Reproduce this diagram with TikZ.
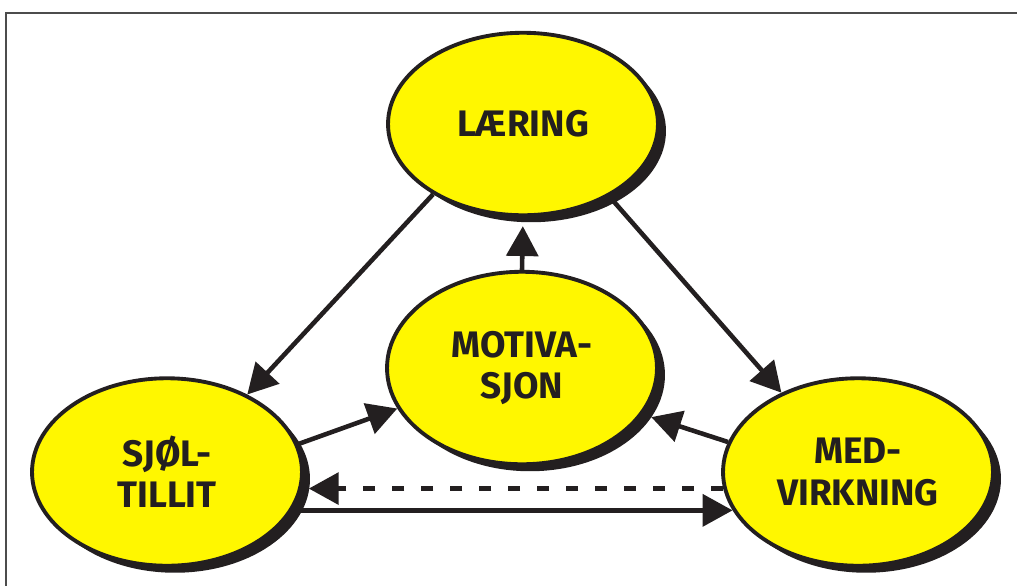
\documentclass[tikz,border=0pt]{standalone}
\usepackage{fontspec}
\setmainfont{Fira Sans}
\usetikzlibrary{shapes.geometric,arrows.meta,shadows}
\definecolor{gul}{RGB}{255,247,0}
\definecolor{sort}{RGB}{35,31,32}
\begin{document}
\begin{tikzpicture}[x=0.02cm,y=-0.02cm,
  boble/.style={ellipse,draw=sort,line width=2.2pt,fill=gul,minimum width=5.4cm,inner sep=0pt,
    drop shadow={shadow xshift=0.16cm,shadow yshift=-0.14cm,fill=sort,opacity=1},
    font=\bfseries\fontsize{21}{23.5}\selectfont,text=sort,align=center},
  pil/.style={draw=sort,line width=2.6pt,-{Triangle[length=17pt,width=18pt]}}]
\useasboundingbox (0,0) rectangle (1017,586);
\draw[line width=1.2pt,black!70] (1017,13)--(6,13)--(6,586);
\node[boble,minimum height=3.65cm](lae) at (523,124){LÆRING};
\node[boble,minimum height=3.85cm](mot) at (522,368){MOTIVA-\\SJON};
\node[boble,minimum height=3.75cm](sjo) at (167,472){SJØL-\\TILLIT};
\node[boble,minimum height=3.75cm](med) at (858,472){MED-\\VIRKNING};
\draw[pil](lae.218)--(sjo.44);
\draw[pil](lae.320)--(med.134);
\draw[pil,shorten >=0.18cm](mot.north)--(lae.south);
\draw[pil](sjo.12)--(mot.198);
\draw[pil,shorten >=0.18cm](med.167)--(mot.339);
\draw[pil,dash pattern=on 6.8pt off 9.7pt,shorten >=0.14cm](med.187)--(sjo.353);
\draw[pil](sjo.343)--(med.197);
\end{tikzpicture}
\end{document}
